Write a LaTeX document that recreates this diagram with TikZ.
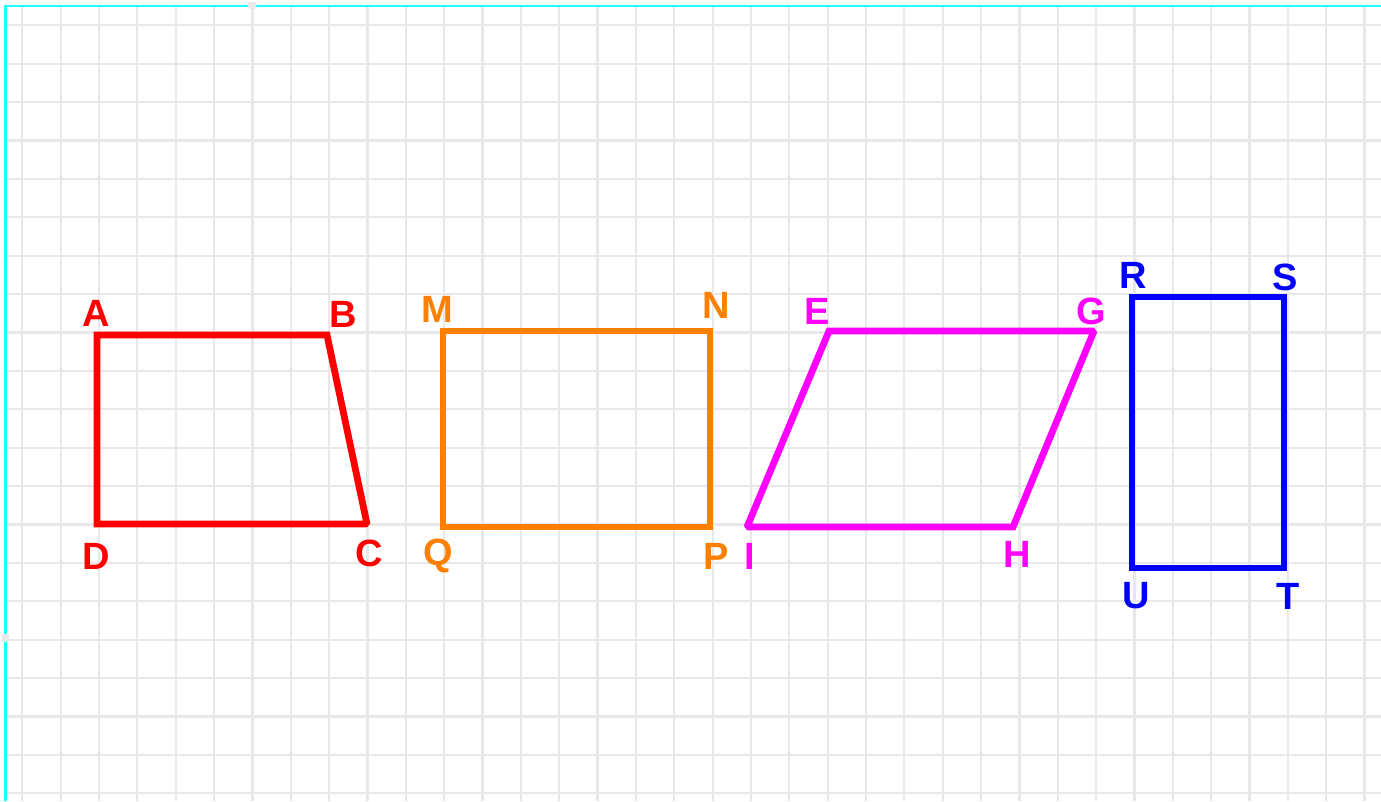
\documentclass[tikz,border=0pt]{standalone}
\usepackage{fontspec}
\setmainfont{Liberation Sans}
\definecolor{gridgray}{HTML}{E8E8E8}
\definecolor{edgecyan}{HTML}{1AFFFF}
\definecolor{cRed}{HTML}{FF0000}
\definecolor{cOrange}{HTML}{FF8000}
\definecolor{cMagenta}{HTML}{FF00FF}
\definecolor{cBlue}{HTML}{0000FF}
\begin{document}
\begin{tikzpicture}[x=1pt,y=-1pt,
  gridline/.style={draw=gridgray,line width=2.2pt},
  shapeline/.style={line width=6.8pt,line join=miter,miter limit=1.5},
  vlabel/.style={inner sep=0pt,font=\fontsize{38}{38}\selectfont\bfseries,text height=27.2pt,text depth=0pt}
]
\useasboundingbox (0,0) rectangle (1381,801);
\fill[white] (0,0) rectangle (1381,801);
% grid
\foreach \k in {0,...,35} {
  \draw[gridline] ({22.3+38.35*\k},7) -- ({22.3+38.35*\k},801);
}
\foreach \k in {0,...,20} {
  \draw[gridline] (7,{25.3+38.4*\k}) -- (1381,{25.3+38.4*\k});
}
% frame
\draw[edgecyan,line width=2.6pt] (4.2,6) -- (1381,6);
\draw[edgecyan,line width=2.6pt] (5.5,4.7) -- (5.5,801);
\fill[gridgray,rounded corners=1pt] (248,2) rectangle (256,8.5);
\fill[gridgray,rounded corners=1pt] (2,634) rectangle (9,642);
% red trapezoid
\coordinate (A) at (97,335);
\coordinate (B) at (327,335);
\coordinate (C) at (367,524);
\coordinate (D) at (97,524);
\draw[shapeline,cRed] (A) -- (B) -- (C) -- (D) -- cycle;
\node[vlabel,text=cRed] (lA) at (96,313) {A};
\node[vlabel,text=cRed] (lB) at (343,314) {B};
\node[vlabel,text=cRed] (lC) at (369,553) {C};
\node[vlabel,text=cRed] (lD) at (96,556) {D};
% orange rectangle
\coordinate (M) at (443,331);
\coordinate (N) at (710,331);
\coordinate (P) at (710,527);
\coordinate (Q) at (443,527);
\draw[shapeline,cOrange] (M) -- (N) -- (P) -- (Q) -- cycle;
\node[vlabel,text=cOrange] (lM) at (437,309) {M};
\node[vlabel,text=cOrange] (lN) at (716,305) {N};
\node[vlabel,text=cOrange] (lP) at (716,556) {P};
\node[vlabel,text=cOrange] (lQ) at (438,552) {Q};
% magenta parallelogram
\coordinate (E) at (829,331);
\coordinate (G) at (1094,331);
\coordinate (H) at (1013,527);
\coordinate (I) at (747,527);
\draw[shapeline,cMagenta] (E) -- (G) -- (H) -- (I) -- cycle;
\node[vlabel,text=cMagenta] (lE) at (817,311) {E};
\node[vlabel,text=cMagenta] (lG) at (1091,311) {G};
\node[vlabel,text=cMagenta] (lH) at (1017,554) {H};
\node[vlabel,text=cMagenta] (lI) at (750,556) {I};
% blue rectangle
\coordinate (R) at (1132,297);
\coordinate (S) at (1284,297);
\coordinate (T) at (1284,568);
\coordinate (U) at (1132,568);
\draw[shapeline,cBlue] (R) -- (S) -- (T) -- (U) -- cycle;
\node[vlabel,text=cBlue] (lR) at (1133,275) {R};
\node[vlabel,text=cBlue] (lS) at (1285,277) {S};
\node[vlabel,text=cBlue] (lT) at (1288,596) {T};
\node[vlabel,text=cBlue] (lU) at (1136,595) {U};
\end{tikzpicture}
\end{document}
